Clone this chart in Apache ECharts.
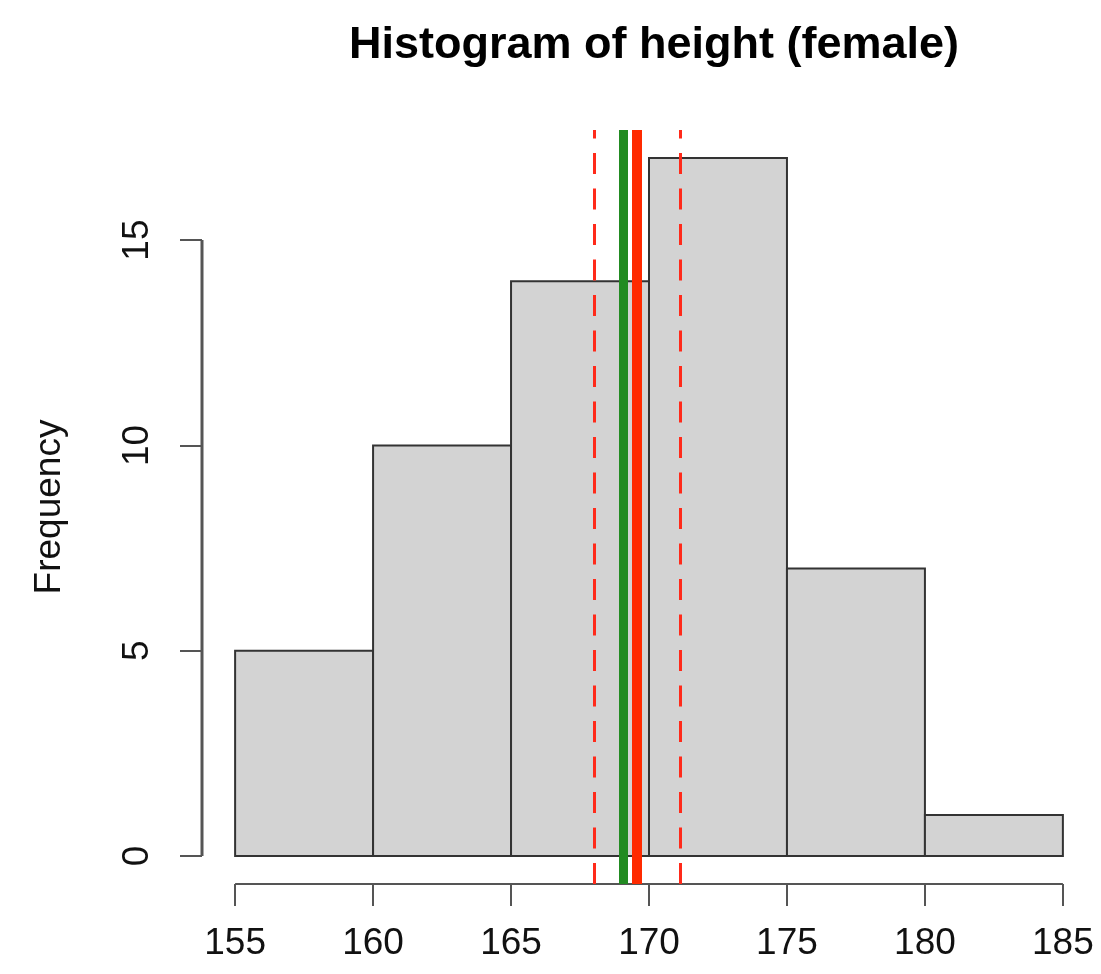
<!DOCTYPE html>
<html>
<head>
<meta charset="utf-8">
<script src="https://cdn.jsdelivr.net/npm/echarts@6/dist/echarts.min.js"></script>
<style>
html,body{margin:0;padding:0;background:#fff;}
#chart{width:1101px;height:974px;}
</style>
</head>
<body>
<div id="chart"></div>
<script>
// ---- data ----
const binStarts = [155, 160, 165, 170, 175, 180];
const binEnds   = [160, 165, 170, 175, 180, 185];
const counts    = [5, 10, 14, 17, 7, 1];
const xTicks    = [155, 160, 165, 170, 175, 180, 185];
const yTicks    = [0, 5, 10, 15];
const medianValue = 169.05;
const meanValue   = 169.57;
const ciLower     = 168.02;
const ciUpper     = 171.12;
const titleText = 'Histogram of height (female)';
const yName = 'Frequency';

// R-style 4% axis extension
const X_MIN = 153.8, X_MAX = 186.2;
const Y_MIN = -0.68, Y_MAX = 17.68;

const FONT = '"Liberation Sans", Arial, Helvetica, sans-serif';
const chart = echarts.init(document.getElementById('chart'), null, {renderer: 'canvas'});

const barData = binStarts.map((s, i) => [s, binEnds[i], counts[i]]);

const option = {
  animation: false,
  backgroundColor: '#ffffff',
  title: {
    text: titleText,
    left: 649,
    top: 18,
    textAlign: 'center',
    textStyle: {fontFamily: FONT, fontSize: 45, fontWeight: 'bold', color: '#000'}
  },
  grid: {left: 202, right: 5, top: 130, bottom: 90},
  xAxis: {
    type: 'value', min: X_MIN, max: X_MAX,
    splitLine: {show: false},
    axisLine: {show: false, onZero: false},
    axisTick: {show: true, customValues: xTicks, length: 22, lineStyle: {color: '#555', width: 2}},
    axisLabel: {customValues: xTicks, margin: 41, fontFamily: FONT, fontSize: 37, color: '#111'}
  },
  yAxis: {
    type: 'value', min: Y_MIN, max: Y_MAX,
    name: yName, nameLocation: 'middle', nameGap: 134, nameRotate: 90,
    nameTextStyle: {fontFamily: FONT, fontSize: 37, color: '#111'},
    splitLine: {show: false},
    axisLine: {show: false, onZero: false},
    axisTick: {show: true, customValues: yTicks, length: 22, lineStyle: {color: '#555', width: 2}},
    axisLabel: {customValues: yTicks, rotate: 90, margin: 46, fontFamily: FONT, fontSize: 37, color: '#111'}
  },
  series: [
    {
      type: 'custom',
      data: barData,
      renderItem: function (params, api) {
        const p0 = api.coord([api.value(0), 0]);
        const p1 = api.coord([api.value(1), api.value(2)]);
        return {
          type: 'rect',
          shape: {x: p0[0], y: p1[1], width: p1[0] - p0[0], height: p0[1] - p1[1]},
          style: {fill: '#d3d3d3', stroke: '#333', lineWidth: 2}
        };
      },
      markLine: {
        silent: true, symbol: 'none', label: {show: false},
        data: [
          {xAxis: ciLower, lineStyle: {color: '#ff2a1a', width: 3, type: [21, 14.5]}},
          {xAxis: ciUpper, lineStyle: {color: '#ff2a1a', width: 3, type: [21, 14.5]}},
          {xAxis: medianValue, lineStyle: {color: '#228b22', width: 9, type: 'solid'}},
          {xAxis: meanValue, lineStyle: {color: '#ff2a00', width: 10, type: 'solid'}}
        ]
      }
    },
    {
      // x axis line spanning first to last tick
      type: 'line', silent: true, symbol: 'none', clip: false,
      data: [[xTicks[0], Y_MIN], [xTicks[xTicks.length - 1], Y_MIN]],
      lineStyle: {color: '#555', width: 2}
    },
    {
      // y axis line spanning first to last tick
      type: 'line', silent: true, symbol: 'none', clip: false,
      data: [[X_MIN, yTicks[0]], [X_MIN, yTicks[yTicks.length - 1]]],
      lineStyle: {color: '#555', width: 3}
    }
  ]
};
chart.setOption(option);
</script>
</body>
</html>
